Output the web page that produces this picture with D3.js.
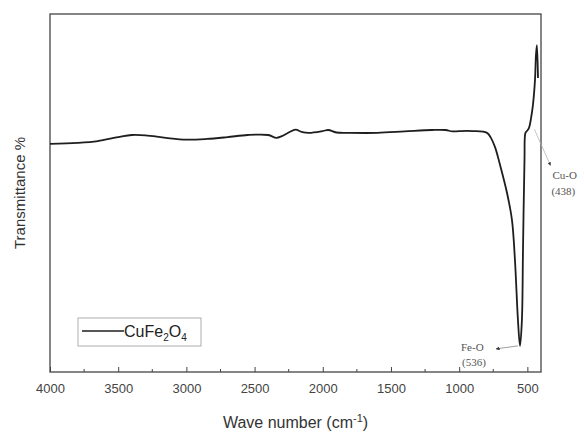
<!DOCTYPE html>
<html>
<head>
<meta charset="utf-8">
<style>
  body { margin: 0; background: #fff; }
  svg { background: #fff; }
  .tick text { font-family: Arial, "Liberation Sans", sans-serif; }
</style>
</head>
<body>
<script src="https://cdn.jsdelivr.net/npm/d3@7"></script>
<script>

const width = 584;
const height = 434;
const margin = {left: 50, right: 43, top: 14, bottom: 62};

// FTIR spectrum (wavenumber, transmittance in arbitrary %)
const waveNumbers = [4000, 3800, 3650, 3500, 3400, 3300, 3150, 3000, 2850, 2700, 2550, 2400, 2340, 2300, 2250, 2200, 2150, 2100, 2000, 1960, 1900, 1800, 1600, 1400, 1200, 1100, 1050, 1000, 900, 796, 767, 737, 700, 649, 613, 591, 569, 554, 540, 532, 521, 514, 503, 488, 473, 459, 444, 437, 430, 422];
const transmittance = [63.7, 64.0, 64.5, 65.6, 66.2, 66.1, 65.4, 64.9, 65.1, 65.6, 66.2, 66.2, 65.4, 65.9, 66.9, 67.7, 67.0, 66.8, 67.3, 67.6, 66.9, 66.8, 66.8, 67.2, 67.6, 67.6, 67.2, 67.3, 67.3, 66.8, 65.4, 62.8, 57.8, 50.0, 42.5, 31.3, 14.5, 7.3, 14.5, 34.1, 59.2, 66.8, 67.3, 68.2, 70.9, 74.6, 81.6, 88.5, 91.3, 82.1];

const xTicks = [4000, 3500, 3000, 2500, 2000, 1500, 1000, 500];
const xMinorTicks = [3750, 3250, 2750, 2250, 1750, 1250, 750];

// peak annotations: label, value, wavenumber and transmittance of the pointed point
const peaks = [
    {label: 'Fe-O', value: '(536)', wn: 554, t: 7.3},
    {label: 'Cu-O', value: '(438)', wn: 470, t: 70}
];

const svg = d3.select('body').append('svg')
    .attr('width', width)
    .attr('height', height);

const x = d3.scaleLinear()
    .domain([4000, 400])
    .range([margin.left, width - margin.right]);

const y = d3.scaleLinear()
    .domain([0, 100])
    .range([height - margin.bottom, margin.top]);

const data = waveNumbers.map((w, i) => ({w: w, t: transmittance[i]}));

// frame
svg.append('rect')
    .attr('x', margin.left)
    .attr('y', margin.top)
    .attr('width', width - margin.left - margin.right)
    .attr('height', height - margin.top - margin.bottom)
    .style('fill', 'none')
    .style('stroke', '#444')
    .style('stroke-width', 1.3);

// x axis, ticks pointing inward
const xAxis = svg.append('g')
    .attr('transform', `translate(0, ${height - margin.bottom})`)
    .call(d3.axisBottom(x).tickValues(xTicks).tickSize(-5).tickPadding(12).tickFormat(d3.format('d')));
xAxis.select('.domain').remove();
xAxis.selectAll('.tick line').style('stroke', '#444');
xAxis.selectAll('.tick text')
    .style('font-size', '13px')
    .style('fill', '#444');

svg.append('g')
    .attr('transform', `translate(0, ${height - margin.bottom})`)
    .selectAll('line')
    .data(xMinorTicks)
    .join('line')
        .attr('x1', d => x(d))
        .attr('x2', d => x(d))
        .attr('y1', 0)
        .attr('y2', -3)
        .style('stroke', '#444');

// spectrum
svg.append('path')
    .datum(data)
    .attr('d', d3.line().x(d => x(d.w)).y(d => y(d.t)).curve(d3.curveCatmullRom.alpha(0.5)))
    .style('fill', 'none')
    .style('stroke', '#1e1e1e')
    .style('stroke-width', 1.8)
    .style('stroke-linejoin', 'round');

// axis titles
const xt = svg.append('text')
    .attr('x', (margin.left + width - margin.right) / 2)
    .attr('y', 428)
    .attr('text-anchor', 'middle')
    .style('font-family', 'Arial, "Liberation Sans", sans-serif')
    .style('font-size', '16px')
    .style('fill', '#333');
xt.append('tspan').text('Wave number (cm');
xt.append('tspan').attr('dy', -6).style('font-size', '11px').text('-1');
xt.append('tspan').attr('dy', 6).text(')');

svg.append('text')
    .attr('transform', `translate(25, ${(margin.top + height - margin.bottom) / 2}) rotate(-90)`)
    .attr('text-anchor', 'middle')
    .style('font-family', 'Arial, "Liberation Sans", sans-serif')
    .style('font-size', '15px')
    .style('fill', '#333')
    .text('Transmittance %');

// legend
const legend = svg.append('g').attr('transform', 'translate(78, 318)');
legend.append('rect')
    .attr('width', 123)
    .attr('height', 28)
    .style('fill', 'none')
    .style('stroke', '#999')
    .style('stroke-width', 0.8);
legend.append('line')
    .attr('x1', 4).attr('x2', 46)
    .attr('y1', 13).attr('y2', 13)
    .style('stroke', '#1e1e1e')
    .style('stroke-width', 1.5);
const lt = legend.append('text')
    .attr('x', 46)
    .attr('y', 19)
    .style('font-family', 'Arial, "Liberation Sans", sans-serif')
    .style('font-size', '16px')
    .style('fill', '#222');
lt.append('tspan').text('CuFe');
lt.append('tspan').attr('dy', 4).style('font-size', '10px').text('2');
lt.append('tspan').attr('dy', -4).text('O');
lt.append('tspan').attr('dy', 4).style('font-size', '10px').text('4');

// peak labels
svg.append('defs').append('marker')
    .attr('id', 'arr')
    .attr('viewBox', '0 0 10 10')
    .attr('refX', 9).attr('refY', 5)
    .attr('markerWidth', 5).attr('markerHeight', 5)
    .attr('orient', 'auto')
    .append('path')
        .attr('d', 'M0,0L10,5L0,10z')
        .style('fill', '#333');

const serif = '"Liberation Serif", "DejaVu Serif", serif';

const fe = peaks[0];
svg.append('line')
    .attr('x1', x(fe.wn) - 2).attr('y1', y(fe.t))
    .attr('x2', x(fe.wn) - 24).attr('y2', y(fe.t) + 3)
    .style('stroke', '#888')
    .style('stroke-width', 0.8)
    .attr('marker-end', 'url(#arr)');
svg.append('text')
    .attr('x', x(fe.wn) - 59).attr('y', y(fe.t) + 5)
    .style('font-family', serif)
    .style('font-size', '11px')
    .style('fill', '#555')
    .text(fe.label);
svg.append('text')
    .attr('x', x(fe.wn) - 58).attr('y', y(fe.t) + 20)
    .style('font-family', serif)
    .style('font-size', '11px')
    .style('fill', '#555')
    .text(fe.value);

const cu = peaks[1];
svg.append('line')
    .attr('x1', x(cu.wn) + 3).attr('y1', y(cu.t) + 8)
    .attr('x2', x(cu.wn) + 19).attr('y2', y(cu.t) + 44)
    .style('stroke', '#aaa')
    .style('stroke-width', 0.7)
    .attr('marker-end', 'url(#arr)');
svg.append('text')
    .attr('x', x(cu.wn) + 21).attr('y', y(cu.t) + 58)
    .style('font-family', serif)
    .style('font-size', '11px')
    .style('fill', '#555')
    .text(cu.label);
svg.append('text')
    .attr('x', x(cu.wn) + 20).attr('y', y(cu.t) + 74)
    .style('font-family', serif)
    .style('font-size', '11px')
    .style('fill', '#555')
    .text(cu.value);

</script>
</body>
</html>
